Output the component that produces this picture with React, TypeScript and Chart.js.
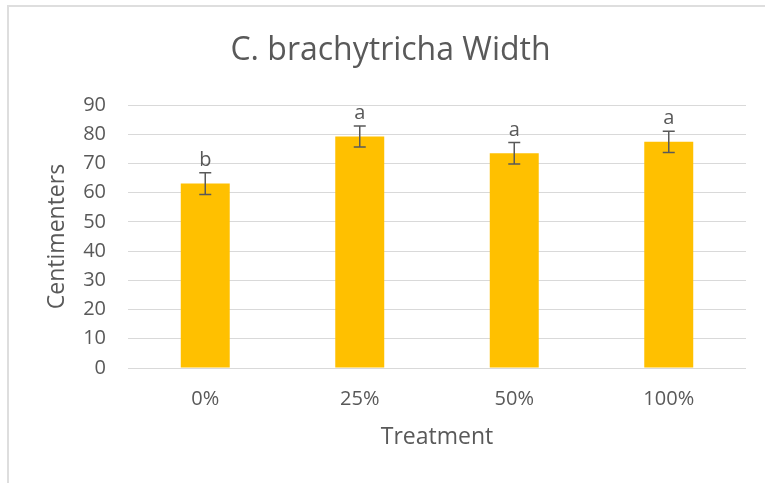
import React, { useEffect, useRef } from "react";
import { Chart, registerables } from "chart.js";

Chart.register(...registerables);

const categories = ["0%", "25%", "50%", "100%"];
const widthMeans = [63.1, 79.2, 73.5, 77.4];
const widthErrors = [3.7, 3.6, 3.65, 3.65];
const significanceLetters = ["b", "a", "a", "a"];
const yTicksMin = 0;
const yTicksMax = 90;
const yTicksStep = 10;

const FONT = "'Open Sans', Lato, sans-serif";
const TEXT = "#595959";

const errorBarPlugin = {
  id: "errorBars",
  afterDatasetsDraw(chart: any) {
    const ctx = chart.ctx;
    const meta = chart.getDatasetMeta(0);
    const yScale = chart.scales.y;
    ctx.save();
    ctx.strokeStyle = TEXT;
    ctx.lineWidth = 1.5;
    meta.data.forEach((bar: any, i: number) => {
      const x = bar.x;
      const yTop = yScale.getPixelForValue(widthMeans[i] + widthErrors[i]);
      const yBot = yScale.getPixelForValue(widthMeans[i] - widthErrors[i]);
      ctx.beginPath();
      ctx.moveTo(x, yTop);
      ctx.lineTo(x, yBot);
      ctx.moveTo(x - 6, yTop);
      ctx.lineTo(x + 6, yTop);
      ctx.moveTo(x - 6, yBot);
      ctx.lineTo(x + 6, yBot);
      ctx.stroke();
      ctx.fillStyle = TEXT;
      ctx.font = `20px ${FONT}`;
      ctx.textAlign = "center";
      ctx.textBaseline = "alphabetic";
      ctx.fillText(significanceLetters[i], x, yTop - 7);
    });
    ctx.restore();
  },
};

export default function App() {
  const canvasRef = useRef<HTMLCanvasElement | null>(null);

  useEffect(() => {
    if (!canvasRef.current) return;
    const chart = new Chart(canvasRef.current, {
      type: "bar",
      data: {
        labels: categories,
        datasets: [
          {
            label: "Width",
            data: widthMeans,
            backgroundColor: "#FFC000",
            borderWidth: 0,
            barPercentage: 0.317,
            categoryPercentage: 1,
          },
        ],
      },
      options: {
        animation: false,
        responsive: false,
        devicePixelRatio: 1,
        layout: { padding: { left: 35, right: 19, top: 0, bottom: 0 } },
        plugins: {
          legend: { display: false },
          tooltip: { enabled: false },
          title: {
            display: true,
            text: "C. brachytricha Width",
            color: TEXT,
            font: { family: FONT, size: 32, weight: "normal", lineHeight: 1.2 },
            padding: { top: 32, bottom: 34.6 },
          },
        },
        scales: {
          x: {
            grid: { display: false },
            border: { display: false },
            ticks: {
              color: TEXT,
              font: { family: FONT, size: 20, lineHeight: 1.2 },
              padding: 11,
            },
            title: {
              display: true,
              text: "Treatment",
              color: TEXT,
              font: { family: FONT, size: 23, lineHeight: 1.2 },
              padding: { top: 0, bottom: 32 },
            },
            afterFit: (scale: any) => {
              scale.height = 115;
            },
          },
          y: {
            min: yTicksMin,
            max: yTicksMax,
            grid: { color: "#D9D9D9", lineWidth: 1, drawTicks: false },
            border: { display: false },
            ticks: {
              stepSize: yTicksStep,
              color: TEXT,
              font: { family: FONT, size: 20, lineHeight: 1.2 },
              padding: 22,
            },
            title: {
              display: true,
              text: "Centimenters",
              color: TEXT,
              font: { family: FONT, size: 23, lineHeight: 1.2 },
              padding: { top: 9, bottom: 0 },
            },
            afterFit: (scale: any) => {
              scale.width = 93;
            },
          },
        },
      },
      plugins: [errorBarPlugin],
    });
    return () => chart.destroy();
  }, []);

  return (
    <div
      style={{
        position: "absolute",
        left: 0,
        top: 0,
        width: 765,
        height: 483,
        overflow: "hidden",
        background: "#fff",
      }}
    >
      <div
        style={{
          position: "absolute",
          left: 7,
          top: 5,
          width: 820,
          height: 520,
          border: "2px solid #DEDEDE",
          boxSizing: "border-box",
        }}
      />
      <canvas
        ref={canvasRef}
        width={765}
        height={483}
        style={{ position: "absolute", left: 0, top: 0, width: 765, height: 483 }}
      />
    </div>
  );
}
